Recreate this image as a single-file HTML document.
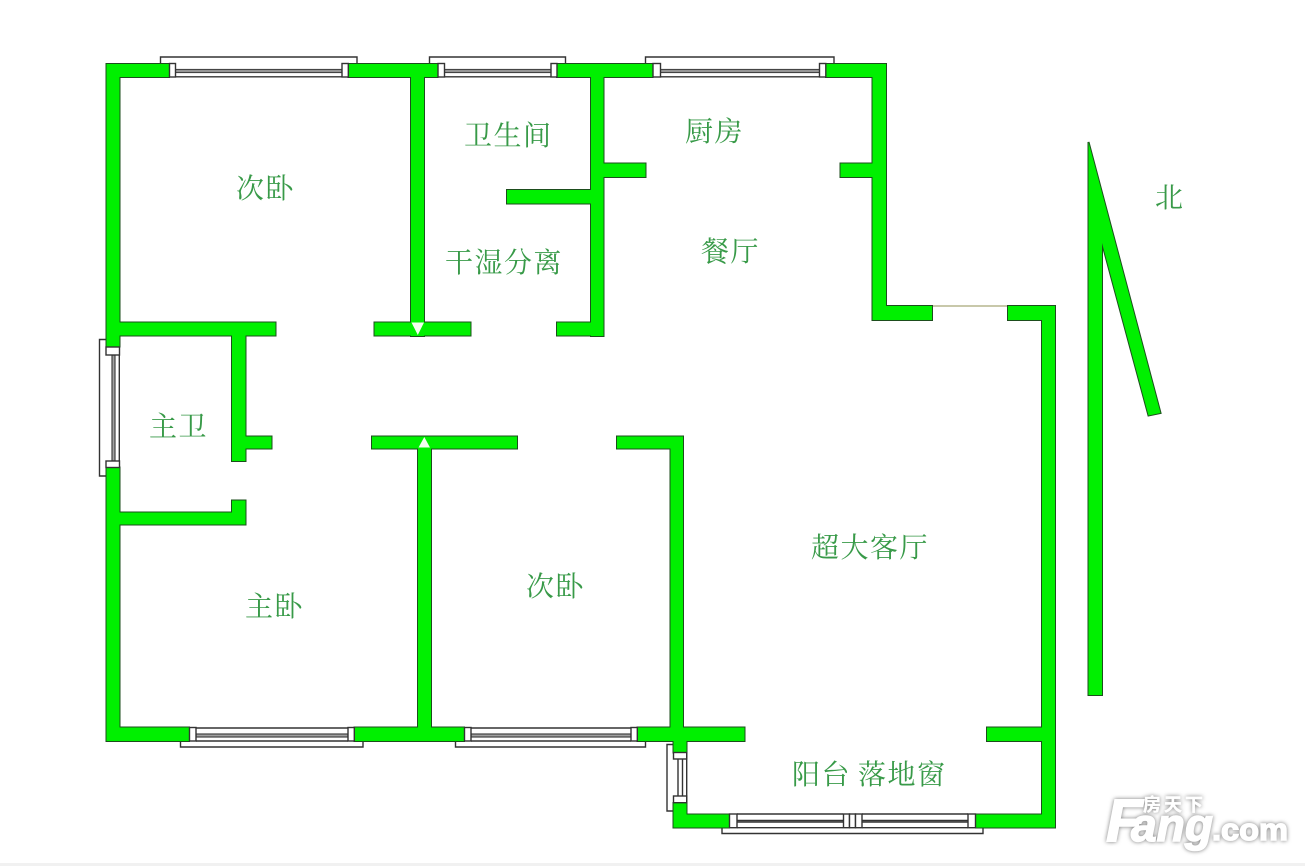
<!DOCTYPE html>
<html>
<head>
<meta charset="utf-8">
<style>
html,body{margin:0;padding:0;background:#fff;width:1305px;height:866px;overflow:hidden}
svg{display:block}
.t{font-family:"Liberation Serif","Noto Serif CJK SC",serif;font-size:28px;fill:#389a48;letter-spacing:1.5px}
.f{fill:none;stroke:#333;stroke-width:1.4}
.b{fill:#fff;stroke:#333;stroke-width:1.4}
.g{fill:#a0a0a0;stroke:#444;stroke-width:1.2}
.l{stroke:#333;stroke-width:1.4;fill:none}
</style>
</head>
<body>
<svg width="1305" height="866" viewBox="0 0 1305 866" xmlns="http://www.w3.org/2000/svg">
<rect x="0" y="863" width="1305" height="3" fill="#f1f1f1"/>
<defs>
<g id="w">
<!-- top -->
<rect x="106.5" y="64" width="62.5" height="13"/>
<rect x="348.5" y="64" width="89" height="13"/>
<rect x="557" y="64" width="95.5" height="13"/>
<rect x="826" y="64" width="60" height="13"/>
<!-- left -->
<rect x="106.5" y="64" width="13" height="282.5"/>
<rect x="106.5" y="467.5" width="13" height="273.5"/>
<!-- v wall 1 -->
<rect x="411" y="64" width="13" height="272"/>
<rect x="106.5" y="322.5" width="169" height="13"/>
<rect x="374.5" y="322.5" width="96" height="13"/>
<!-- v wall 2 -->
<rect x="591" y="64" width="12.5" height="272"/>
<rect x="557" y="322.5" width="46" height="13"/>
<rect x="591" y="163.5" width="54.5" height="13.5"/>
<rect x="507" y="190" width="96" height="13.5"/>
<!-- right kitchen wall -->
<rect x="872.5" y="64" width="13.5" height="256"/>
<rect x="840.5" y="163.5" width="40" height="13.5"/>
<rect x="872.5" y="306" width="59.5" height="14"/>
<!-- right outer -->
<rect x="1008" y="306" width="47" height="14"/>
<rect x="1042" y="306" width="13" height="521.5"/>
<rect x="987" y="727.5" width="65" height="13.5"/>
<rect x="976" y="814.5" width="79" height="13"/>
<!-- master bath -->
<rect x="232" y="330" width="13.5" height="131"/>
<rect x="235" y="436.5" width="36.5" height="12"/>
<rect x="232" y="500.5" width="13.5" height="24"/>
<rect x="106.5" y="512.5" width="139" height="12"/>
<!-- mid walls -->
<rect x="372" y="436.5" width="145" height="12"/>
<rect x="418" y="440" width="13" height="301"/>
<rect x="617" y="436.5" width="66" height="12"/>
<rect x="670.5" y="436.5" width="12.5" height="304"/>
<!-- bottom -->
<rect x="106.5" y="727.5" width="82.5" height="13.5"/>
<rect x="354.5" y="727.5" width="109.5" height="13.5"/>
<rect x="637.5" y="727.5" width="107" height="13.5"/>
<rect x="673.5" y="735" width="13" height="17.5"/>
<rect x="673.5" y="803" width="13" height="24.5"/>
<rect x="673.5" y="814.5" width="55.5" height="13"/>
<!-- arrow -->
<polygon points="1088.5,142 1160.5,413 1148.5,415.5 1102,243 1102,695 1088.5,695"/>
</g>
</defs>

<!-- outer window frames -->
<polyline class="f" points="160.5,63.5 160.5,57 357,57 357,63.5"/>
<polyline class="f" points="429.5,63.5 429.5,57 565.5,57 565.5,63.5"/>
<polyline class="f" points="645.5,63.5 645.5,57 834,57 834,63.5"/>
<polyline class="f" points="119,339.5 99.5,339.5 99.5,476 119,476" />
<polyline class="f" points="180.5,741.5 180.5,747 363,747 363,741.5"/>
<polyline class="f" points="455.5,741.5 455.5,747 645.5,747 645.5,741.5"/>
<polyline class="f" points="673,744.5 667,744.5 667,811 673,811"/>
<polyline class="f" points="722,828 722,833.5 983,833.5 983,828"/>

<!-- walls -->
<use href="#w" fill="#1d4d1d" stroke="#1d4d1d" stroke-width="2"/>
<use href="#w" fill="#00f000"/>

<!-- top windows -->
<rect class="g" x="175" y="69.5" width="167" height="3"/><line class="l" x1="175" y1="76.8" x2="342" y2="76.8"/>
<rect class="g" x="444" y="69.5" width="107" height="3"/><line class="l" x1="444" y1="76.8" x2="551" y2="76.8"/>
<rect class="g" x="660" y="69.5" width="160" height="3"/><line class="l" x1="660" y1="76.8" x2="820" y2="76.8"/>
<rect class="b" x="169.5" y="63.5" width="6" height="13.5"/><rect class="b" x="342" y="63.5" width="6.3" height="13.5"/>
<rect class="b" x="438" y="63.5" width="6.5" height="13.5"/><rect class="b" x="551" y="63.5" width="6" height="13.5"/>
<rect class="b" x="653" y="63.5" width="7.5" height="13.5"/><rect class="b" x="819.5" y="63.5" width="6.3" height="13.5"/>

<!-- left window -->
<rect class="g" x="112" y="355" width="3" height="106"/><line class="l" x1="119.3" y1="355" x2="119.3" y2="461"/>
<rect class="b" x="106" y="347" width="13.5" height="8"/><rect class="b" x="106" y="461" width="13.5" height="6.5"/>

<!-- bottom windows -->
<line class="l" x1="196" y1="728" x2="348" y2="728"/><rect class="g" x="196" y="734" width="152" height="3"/><line class="l" x1="196" y1="741" x2="348" y2="741"/>
<line class="l" x1="471" y1="728" x2="631" y2="728"/><rect class="g" x="471" y="734" width="160" height="3"/><line class="l" x1="471" y1="741" x2="631" y2="741"/>
<rect class="b" x="189.5" y="727.5" width="6.5" height="13.5"/><rect class="b" x="348" y="727.5" width="6.3" height="13.5"/>
<rect class="b" x="464.5" y="727.5" width="6.5" height="13.5"/><rect class="b" x="631" y="727.5" width="6.3" height="13.5"/>

<!-- balcony left window -->
<line class="l" x1="678" y1="759" x2="678" y2="796"/><line class="l" x1="682.5" y1="759" x2="682.5" y2="796"/><line class="l" x1="686.7" y1="752" x2="686.7" y2="803"/>
<rect class="b" x="673.5" y="752.5" width="13.2" height="6.5"/><rect class="b" x="673.5" y="796" width="13.2" height="6.7"/>

<!-- balcony bottom window -->
<line class="l" x1="737" y1="814" x2="843" y2="814"/><line class="l" x1="737" y1="820.5" x2="843" y2="820.5"/><line class="l" x1="737" y1="822" x2="843" y2="822"/><line class="l" x1="737" y1="827.7" x2="843" y2="827.7"/>
<line class="l" x1="862" y1="814" x2="968" y2="814"/><line class="l" x1="862" y1="820.5" x2="968" y2="820.5"/><line class="l" x1="862" y1="822" x2="968" y2="822"/><line class="l" x1="862" y1="827.7" x2="968" y2="827.7"/>
<rect class="b" x="729.5" y="814" width="7.5" height="13.7"/>
<rect class="b" x="843.5" y="814" width="6" height="13.7"/><rect class="b" x="849.5" y="814" width="6" height="13.7"/><rect class="b" x="855.5" y="814" width="6.5" height="13.7"/>
<rect class="b" x="968" y="814" width="7.5" height="13.7"/>

<!-- door line -->
<line x1="933" y1="306" x2="1007" y2="306" stroke="#a8a878" stroke-width="1.2"/>

<!-- small triangles -->
<polygon points="411.5,322.5 424,322.5 417.8,335" fill="#f4fff0"/>
<polygon points="418.5,447.5 430,447.5 424.3,437" fill="#f4fff0"/>

<!-- labels -->
<text class="t" x="236" y="198">次卧</text>
<text class="t" x="464" y="145">卫生间</text>
<text class="t" x="445" y="272">干湿分离</text>
<text class="t" x="685" y="141">厨房</text>
<text class="t" x="701" y="261">餐厅</text>
<text class="t" x="1155" y="207">北</text>
<text class="t" x="149" y="436">主卫</text>
<text class="t" x="245" y="616">主卧</text>
<text class="t" x="526" y="596">次卧</text>
<text class="t" x="811" y="557">超大客厅</text>
<text class="t" x="792" y="784">阳台</text>
<text class="t" x="858" y="784">落地窗</text>

<!-- watermark -->
<g style="filter:drop-shadow(0 0 2px #777)" fill="#ffffff" stroke="#ffffff" stroke-width="1.5" font-family="'Liberation Sans',sans-serif" font-weight="bold">
<text x="1106" y="841" font-size="60" font-style="italic">F</text>
<text x="1131" y="841" font-size="46" font-style="italic" textLength="82" lengthAdjust="spacingAndGlyphs">ang</text>
<text x="1212" y="840" font-size="31" textLength="76" lengthAdjust="spacingAndGlyphs">.com</text>
<text x="1143" y="811" font-size="18" stroke-width="0.4" font-family="'Liberation Sans','Noto Sans CJK SC',sans-serif" textLength="60" lengthAdjust="spacing">房天下</text>
</g>
</svg>
</body>
</html>
